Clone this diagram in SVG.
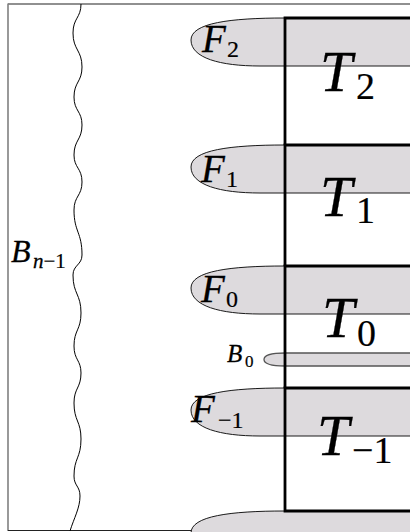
<svg xmlns="http://www.w3.org/2000/svg" width="410" height="532" viewBox="0 0 410 532">
<style>
.blob{fill:#dddadd;stroke:#1a1a1a;stroke-width:1}
.strip{fill:#dddadd;stroke:#555;stroke-width:1.3}
.thick{fill:none;stroke:#000;stroke-width:2.8}
.m{font-family:"Liberation Serif","Times New Roman",serif;font-style:italic;fill:#000;stroke:#000;stroke-width:0.3}
.d{font-family:"Liberation Serif","Times New Roman",serif;font-style:normal;fill:#000;stroke:#000;stroke-width:0.2}
</style>
<rect width="410" height="532" fill="#fff"/>
<g id="frame">
<line x1="8" y1="4" x2="412" y2="4" stroke="#222" stroke-width="1.2"/>
<line x1="8" y1="3.5" x2="8" y2="531" stroke="#808080" stroke-width="1.6"/>
<line x1="8" y1="530.5" x2="412" y2="530.5" stroke="#222" stroke-width="1.2"/>
</g>
<g id="Bn1">
<path fill="none" stroke="#000" stroke-width="1" d="M81,4 C81,18 73,18 73,33 C73,50 82,50 82,67 C82,82 74,82 74,97 C74,111 82,111 82,125 C82,140 74,140 74,155 C74,168 82,168 82,182 C82,196 74,196 74,210 C74,232 82,232 82,255 C82,265 73,265 73,275 C73,294 81,294 81,313 C81,330 74,330 74,346 C74,360 81,360 81,373 C81,388 74,388 74,403 C74,421 81,421 81,439 C81,458 74,458 74,476 C74,486 80,486 80,496 C80,508 74,518 70,531"/>
<text class="m" x="11" y="262" font-size="32">B</text>
<text class="m" x="33" y="268" font-size="21">n<tspan class="d">−1</tspan></text>
</g>
<g id="F2"><path class="blob" d="M415,18 L285,18 C230,18 191,23 191,40 C191,58 220,66 260,66 L415,66 Z"/></g>
<g id="F1"><path class="blob" d="M415,145 L285,145 C230,145 191,150 191,167 C191,185 220,193 260,193 L415,193 Z"/></g>
<g id="F0"><path class="blob" d="M415,266 L285,266 C230,266 191,271 191,288 C191,306 220,314 260,314 L415,314 Z"/></g>
<g id="F-1"><path class="blob" d="M415,388 L285,388 C230,388 191,393 191,410 C191,428 220,436 260,436 L415,436 Z"/></g>
<g id="Fbottom"><path class="blob" d="M415,511 L285,511 C230,511 191,516 191,533 C191,551 220,559 260,559 L415,559 Z"/></g>
<g id="B0">
<path class="strip" d="M415,353 L285,353 C272,353 264,355 264,359.5 C264,364 272,366 285,366 L415,366 Z"/>
<text class="m" x="227" y="362" font-size="25">B</text>
<text class="d" x="245" y="367" font-size="17">0</text>
</g>
<g id="T2"><path class="thick" d="M415,18 L285,18 L285,145"/></g>
<g id="T1"><path class="thick" d="M415,145 L285,145 L285,266"/></g>
<g id="T0"><path class="thick" d="M415,266 L285,266 L285,388"/></g>
<g id="T-1"><path class="thick" d="M415,388 L285,388 L285,511 L415,511"/></g>
<g id="labels">
<text class="m" x="202" y="52" font-size="39">F</text><text class="d" x="227" y="57" font-size="24">2</text>
<text class="m" x="201" y="182" font-size="39">F</text><text class="d" x="226" y="187" font-size="24">1</text>
<text class="m" x="201" y="302" font-size="39">F</text><text class="d" x="226" y="307" font-size="24">0</text>
<text class="m" x="191" y="422" font-size="39">F</text><text class="d" x="218" y="428" font-size="24">−1</text>
<text class="m" x="320" y="91" font-size="58">T</text><text class="d" x="356" y="99" font-size="38">2</text>
<text class="m" x="320" y="216" font-size="58">T</text><text class="d" x="356" y="223" font-size="38">1</text>
<text class="m" x="322" y="337" font-size="58">T</text><text class="d" x="357" y="346" font-size="38">0</text>
<text class="m" x="317" y="455" font-size="58">T</text><text class="d" x="352" y="463" font-size="38">−1</text>
</g>
</svg>
